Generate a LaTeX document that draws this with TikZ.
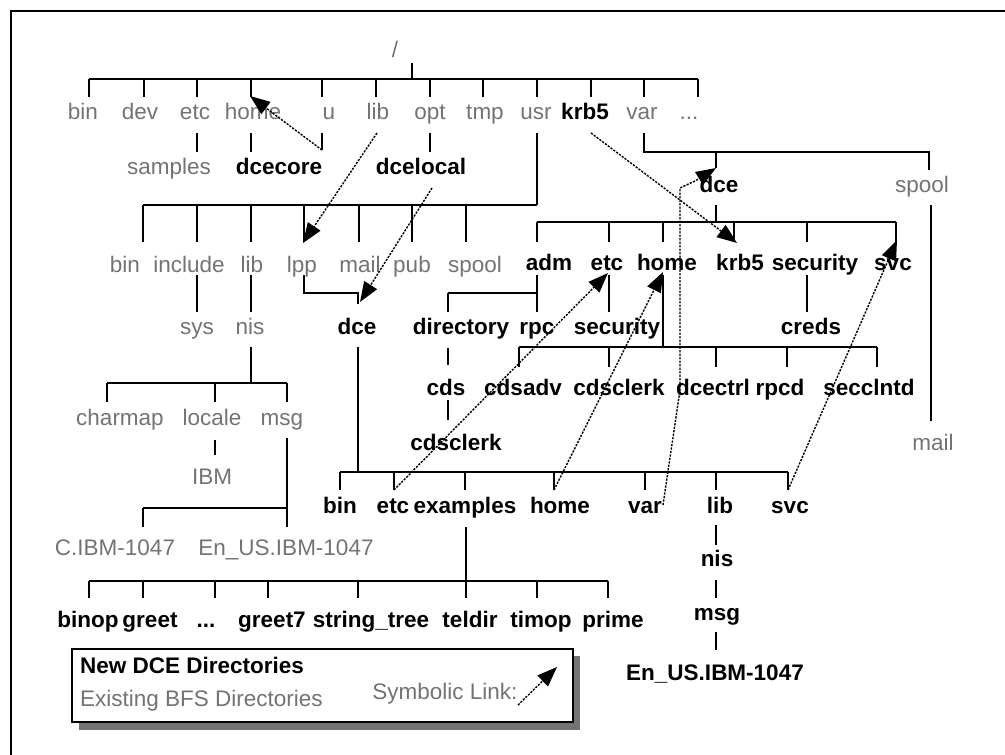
\documentclass[tikz,border=0pt]{standalone}
\usepackage{fontspec}
\setmainfont{Liberation Sans}
\usetikzlibrary{arrows.meta}
\tikzset{
  new/.style={font=\bfseries\fontsize{22.5}{22.5}\selectfont, inner sep=0pt, text height=15pt, text depth=0pt},
  old/.style={font=\fontsize{22.5}{22.5}\selectfont, text=black!55, inner sep=0pt, text height=15pt, text depth=0pt},
  tree/.style={line width=1.4pt},
  symlink/.style={line width=1.4pt, dash pattern=on 2.2pt off 1.3pt, -{Triangle[length=20pt,width=15pt]}},
}
\begin{document}
\begin{tikzpicture}[x=1pt,y=-1pt]
\useasboundingbox (0,0) rectangle (1005,755);
\draw[line width=1.3pt] (11,755) -- (11,11) -- (1005,11);

% ---------- labels ----------
\node[old] (root) at (395,50) {/};
\foreach \n/\x/\t in {bin/83/bin, dev/140/dev, etc/195/etc, home/253/home, u/329/u, lib/378/lib, opt/430/opt, tmp/485/tmp, usr/536/usr, var/642/var}
  \node[old] (\n) at (\x,112) {\t};
\node[old] (dots) at (689,112) {...};
\node[new] (krb) at (585,112) {krb5};
\node[old] (samples) at (169,167) {samples};
\node[new] (dcecore) at (279,167) {dcecore};
\node[new] (dcelocal) at (421,167) {dcelocal};

\foreach \n/\x/\t in {ubin/125/bin, include/189/include, ulib/252/lib, lpp/302/lpp, mail/360/mail, pub/412/pub, spool/475/spool}
  \node[old] (\n) at (\x,265) {\t};
\node[old] (sys) at (197,327) {sys};
\node[old] (nis) at (250,327) {nis};
\node[old] (charmap) at (120,418) {charmap};
\node[old] (locale) at (212,418) {locale};
\node[old] (msg) at (282,418) {msg};
\node[old] (ibm) at (212,477) {IBM};
\node[old] (cibm) at (115,548) {C.IBM-1047};
\node[old] (enus) at (286,548) {En\_US.IBM-1047};

\node[new] (dce) at (357,327) {dce};
\foreach \n/\x/\t in {dbin/340/bin, detc/393/etc, examples/465/examples, dhome/560/home, dvar/645/var, dlib/720/lib, dsvc/790/svc}
  \node[new] (\n) at (\x,506) {\t};
\node[new] (dnis) at (717,559) {nis};
\node[new] (dmsg) at (717,613) {msg};
\node[new] (denus) at (715,673) {En\_US.IBM-1047};
\foreach \n/\x/\t in {binop/88/binop, greet/150/greet, greet7/272/greet7, stree/371/string\_tree, teldir/470/teldir, timop/541/timop, prime/613/prime}
  \node[new] (\n) at (\x,620) {\t};
\node[new] (edots) at (206,620) {...};

\node[new] (vdce) at (719,185) {dce};
\node[old] (vspool) at (922,185) {spool};
\node[old] (vmail) at (933,443) {mail};
\foreach \n/\x/\t in {adm/549/adm, vetc/607/etc, vhome/667/home, vkrb/740/krb5, vsec/815/security, vsvc/893/svc}
  \node[new] (\n) at (\x,263) {\t};
\node[new] (directory) at (461,327) {directory};
\node[new] (rpc) at (537,327) {rpc};
\node[new] (security) at (617,327) {security};
\node[new] (creds) at (811,327) {creds};
\foreach \n/\x/\t in {cds/446/cds, cdsadv/523/cdsadv, cdsclerk/619/cdsclerk, dcectrl/713/dcectrl, rpcd/780/rpcd, secclntd/869/secclntd}
  \node[new] (\n) at (\x,388) {\t};
\node[new] (cdsclerkb) at (456,443) {cdsclerk};

% ---------- tree lines ----------
\draw[tree] (412,63) -- (412,79) (89,79) -- (698,79);
\foreach \x in {89,144,197,251,322,376,430,483,537,591,644,698} \draw[tree] (\x,79) -- (\x,97);
\draw[tree] (197,133) -- (197,152) (251,133) -- (251,152) (322,133) -- (322,150) (430,133) -- (430,152);
\draw[tree] (537,133) -- (537,205) (143,205) -- (537,205);
\foreach \x in {143,197,251,304,359,412,466} \draw[tree] (\x,205) -- (\x,242);
\draw[tree] (197,275) -- (197,312) (251,275) -- (251,312);
\draw[tree] (251,347) -- (251,383) (107,383) -- (287,383);
\foreach \x in {107,215,287} \draw[tree] (\x,383) -- (\x,402);
\draw[tree] (215,440) -- (215,455);
\draw[tree] (287,438) -- (287,527) (143,508) -- (287,508) (143,508) -- (143,527);
\draw[tree] (304,275) |- (358,293) -- (358,304);
\draw[tree] (358,347) -- (358,472) (340,472) -- (788,472);
\foreach \x in {340,394,465,554,645,716,788} \draw[tree] (\x,472) -- (\x,490);
\draw[tree] (716,525) -- (716,545) (716,580) -- (716,598) (716,632) -- (716,650);
\draw[tree] (466,527) -- (466,581) (89,581) -- (608,581);
\foreach \x in {89,143,215,268,358,466,537,608} \draw[tree] (\x,581) -- (\x,598);
\draw[tree] (644,133) -- (644,152) -- (929,152) -- (929,170) (716,152) -- (716,168);
\draw[tree] (931,205) -- (931,421);
\draw[tree] (716,205) -- (716,222) (537,222) -- (896,222);
\foreach \x in {537,609,663,734,807,896} \draw[tree] (\x,222) -- (\x,242);
\draw[tree] (537,275) -- (537,312) (448,293) -- (537,293) (448,293) -- (448,312);
\draw[tree] (609,275) -- (609,312) (807,275) -- (807,312);
\draw[tree] (663,275) -- (663,347) (519,347) -- (877,347);
\foreach \x in {519,609,716,787,877} \draw[tree] (\x,347) -- (\x,367);
\draw[tree] (448,348) -- (448,365) (448,400) -- (448,420);

% ---------- symbolic links ----------
\draw[symlink] (322,150) -- (250,96);
\draw[symlink] (377,133) -- (303,243);
\draw[symlink] (432,188) -- (360,302);
\draw[symlink] (591,133) -- (737,243);
\draw[symlink] (663,505) -- (680,390) -- (680,188) -- (695,181) -- (716,168);
\draw[symlink] (394,490) -- (608,273);
\draw[symlink] (554,490) -- (663,272);
\draw[symlink] (788,490) -- (897,240);

% ---------- legend ----------
\fill[black!55] (79,722) rectangle (580,730);
\fill[black!55] (573,656) rectangle (580,730);
\draw[line width=1.3pt, fill=white] (72,649) rectangle (573,722);
\node[new, anchor=west] (lnew) at (80,666) {New DCE Directories};
\node[old, anchor=west] (lold) at (80,699) {Existing BFS Directories};
\node[old] (lsym) at (445,692) {Symbolic Link:};
\draw[symlink] (518,705) -- (557,667);
\end{tikzpicture}
\end{document}
